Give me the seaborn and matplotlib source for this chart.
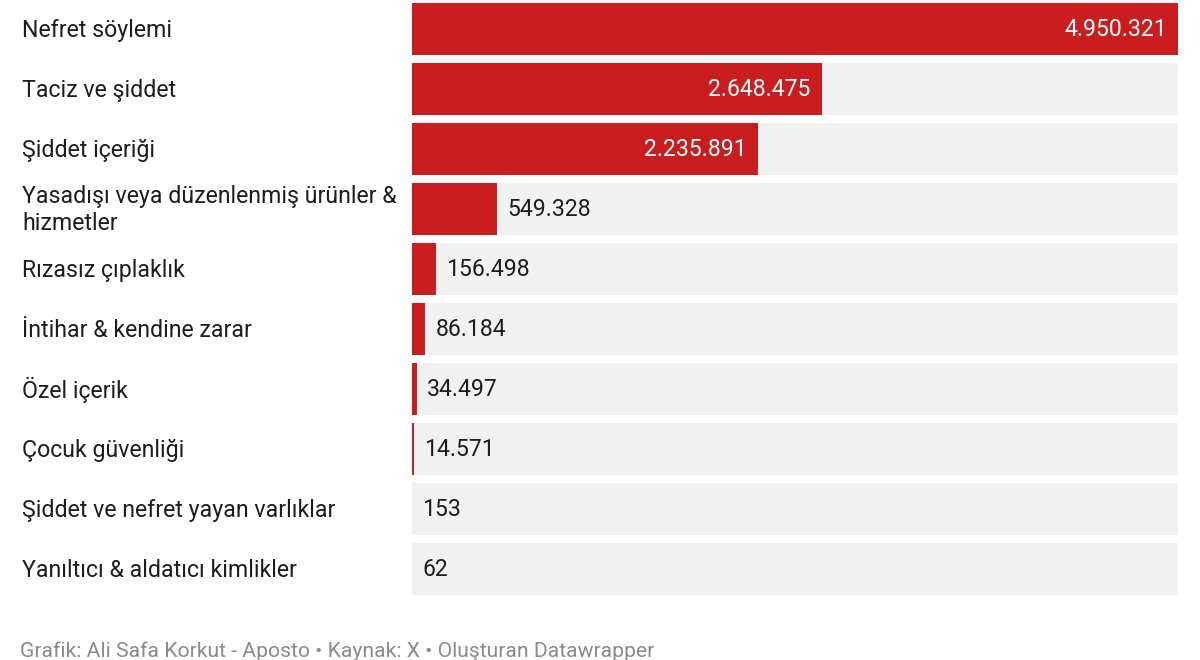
import numpy as np
import pandas as pd
import matplotlib
matplotlib.use("Agg")
import matplotlib.pyplot as plt
import seaborn as sns

categories = [
    "Nefret söylemi",
    "Taciz ve şiddet",
    "Şiddet içeriği",
    "Yasadışı veya düzenlenmiş ürünler &\nhizmetler",
    "Rızasız çıplaklık",
    "İntihar & kendine zarar",
    "Özel içerik",
    "Çocuk güvenliği",
    "Şiddet ve nefret yayan varlıklar",
    "Yanıltıcı & aldatıcı kimlikler",
]
values = [4950321, 2648475, 2235891, 549328, 156498, 86184, 34497, 14571, 153, 62]
footer = "Grafik: Ali Safa Korkut - Aposto • Kaynak: X • Oluşturan Datawrapper"

RED = "#c91d1f"
BG = "#f1f1f1"
TEXT = "#1d1d1d"

sns.set_theme(style="white")
plt.rcParams["font.family"] = ["Roboto", "DejaVu Sans"]

df = pd.DataFrame({"kategori": categories, "deger": values})
df["arka"] = max(values)

fig = plt.figure(figsize=(12, 6.6), dpi=100)
ax = fig.add_axes([412 / 1200, 1 - 598 / 660, 766 / 1200, 598 / 660])

bar_h = 52 / 60
sns.barplot(data=df, y="kategori", x="arka", color=BG, width=bar_h,
            saturation=1, linewidth=0, ax=ax, orient="h")
sns.barplot(data=df, y="kategori", x="deger", color=RED, width=bar_h,
            saturation=1, linewidth=0, ax=ax, orient="h")

ax.set_xlim(0, max(values))
ax.set_ylim((598 - 29) / 60, -29 / 60)
ax.set_xlabel("")
ax.set_ylabel("")
ax.set_xticks([])
ax.set_yticks([])
for s in ax.spines.values():
    s.set_visible(False)

px = max(values) / 766  # data units per pixel
for i, v in enumerate(values):
    label = f"{v:,}".replace(",", ".")
    if v / max(values) > 0.3:
        ax.text(v - 11 * px, i, label, ha="right", va="center",
                color="white", fontsize=16.6)
    else:
        ax.text(v + 10 * px, i, label, ha="left", va="center",
                color=TEXT, fontsize=16.6)
    ax.annotate(categories[i], xy=(0, i), xycoords=("figure fraction", "data"),
                xytext=(22, -1), textcoords="offset pixels",
                ha="left", va="center", color=TEXT, fontsize=16.7,
                linespacing=1.2)

fig.text(20 / 1200, 1 - 651 / 660, footer, ha="left", va="center",
         color="#8a8a8a", fontsize=15.2)

fig.savefig("out.png", dpi=100)
